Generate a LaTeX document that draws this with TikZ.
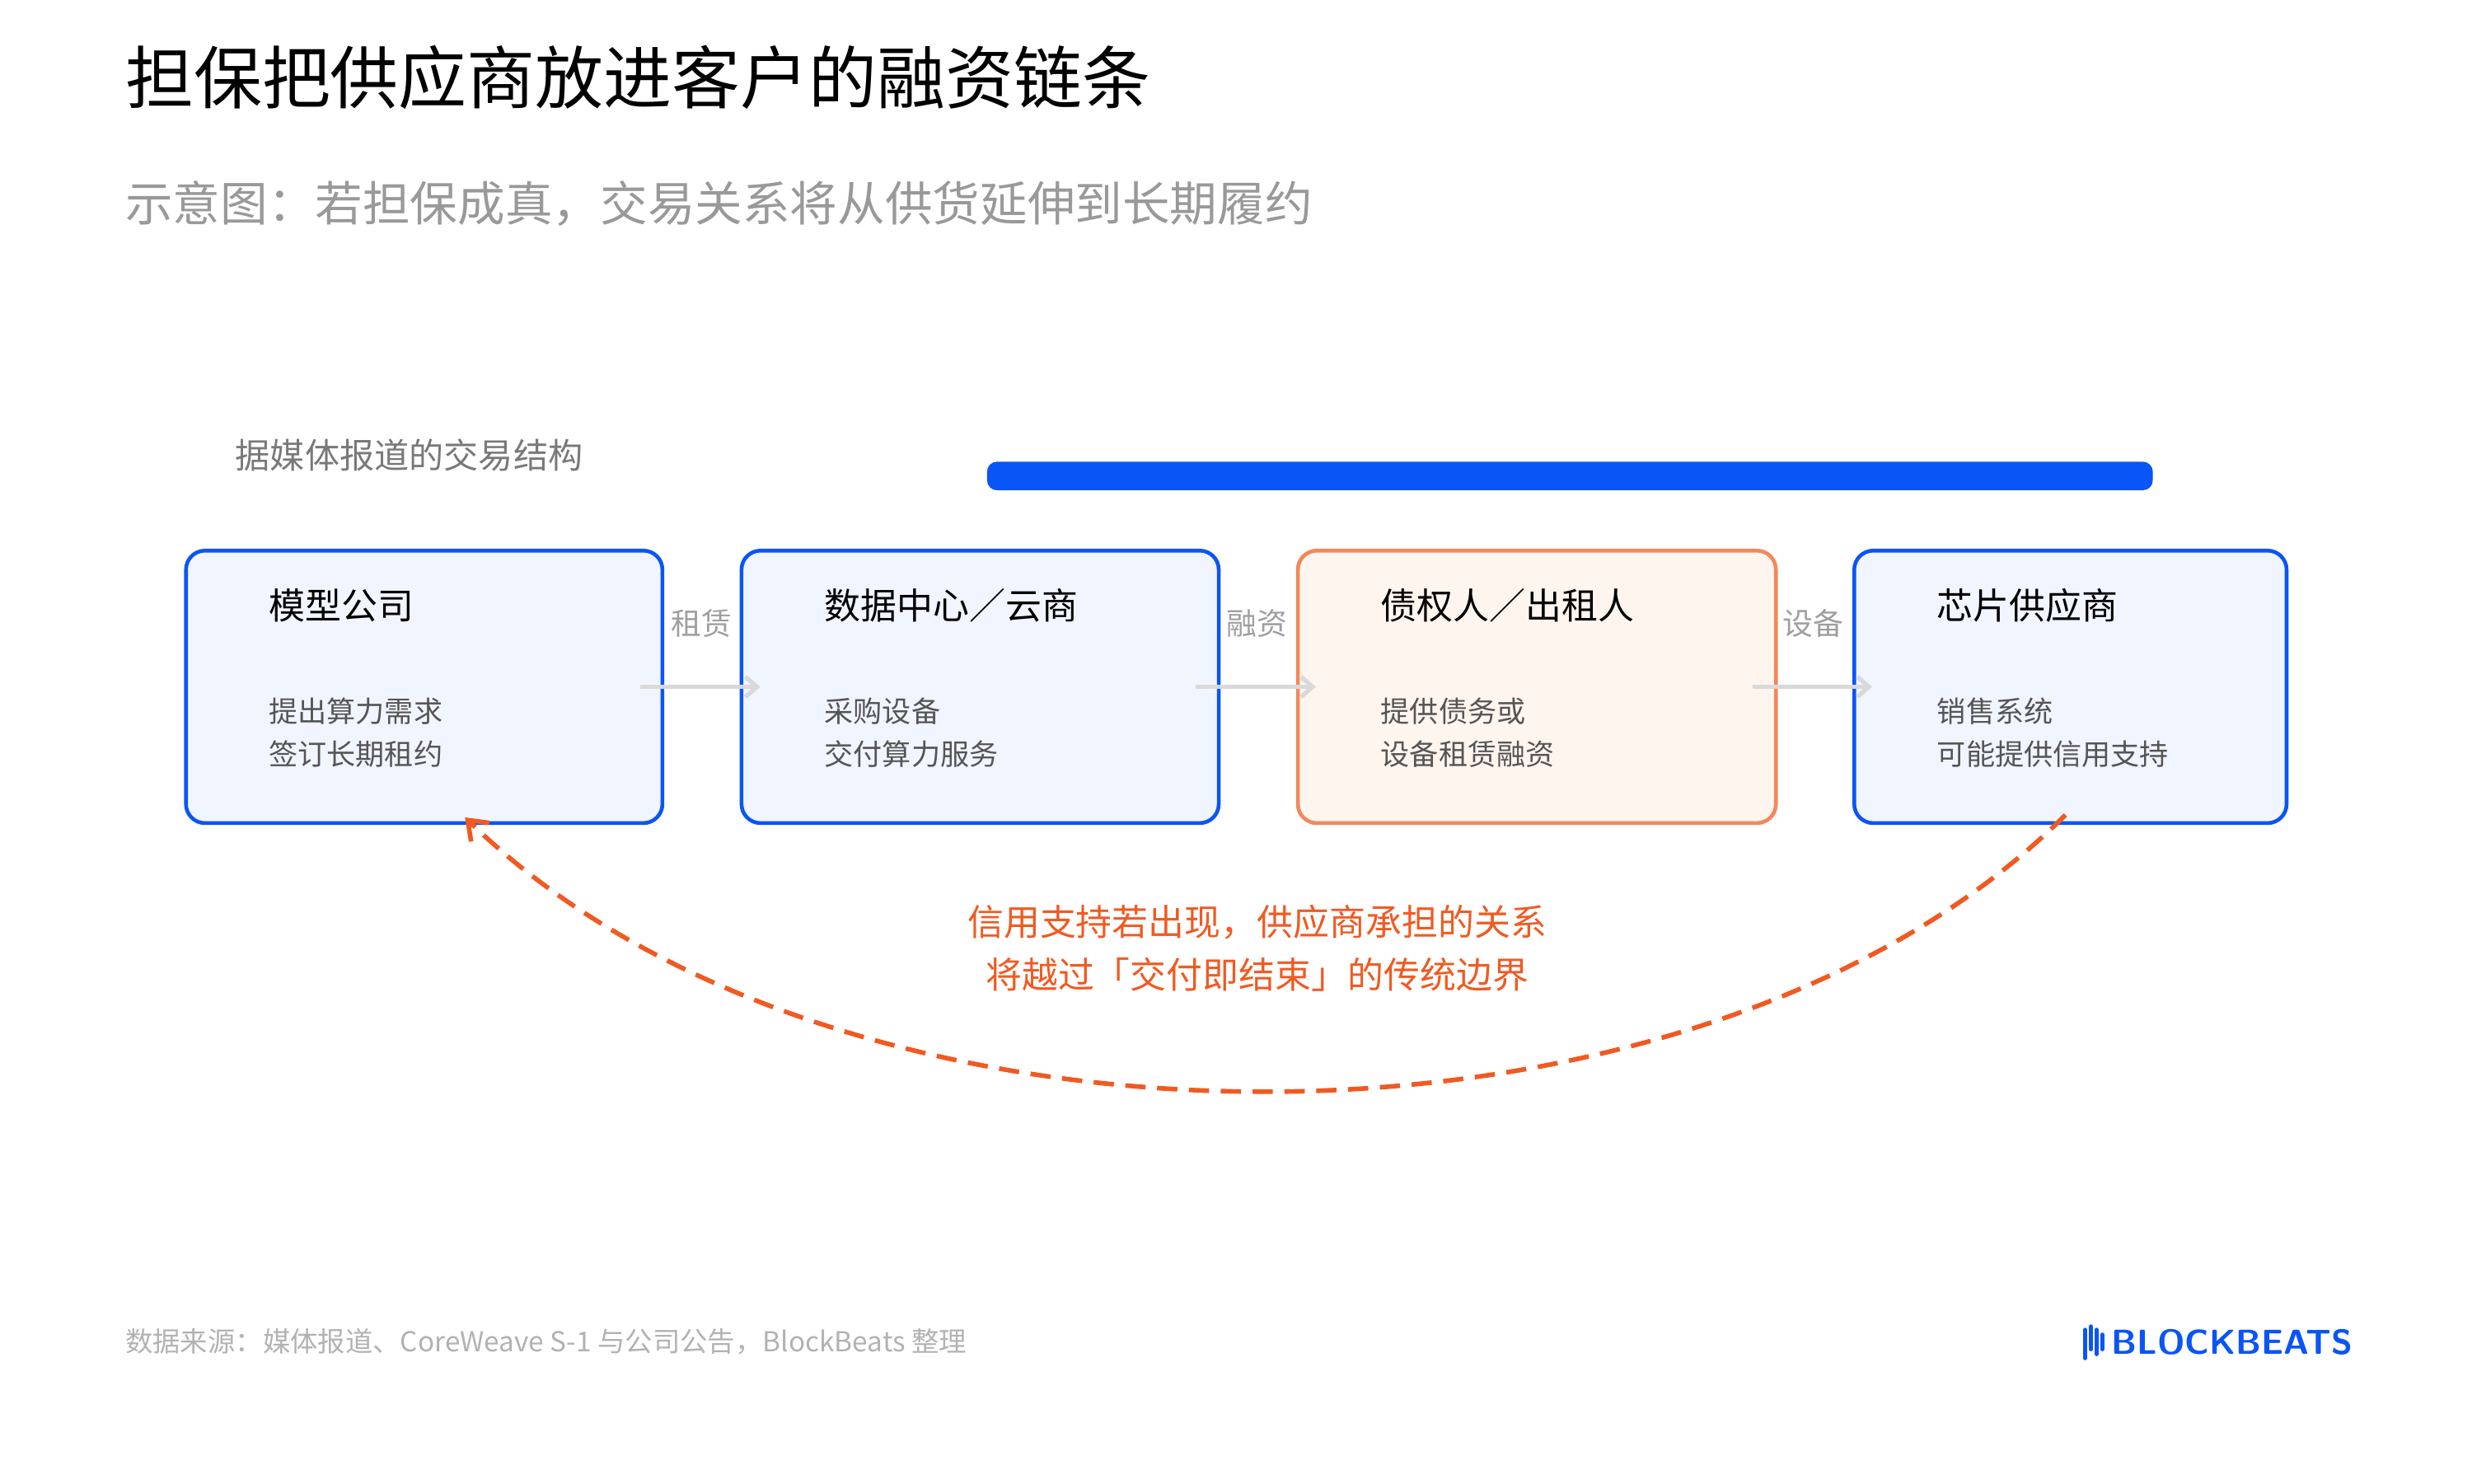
\documentclass[tikz,border=0pt]{standalone}
\usepackage{fontspec}
\setmainfont{Noto Sans CJK SC}
\usetikzlibrary{arrows.meta}
\definecolor{bblue}{HTML}{0A55F5}
\definecolor{bfill}{HTML}{F1F5FF}
\definecolor{ofill}{HTML}{FFF5EF}
\definecolor{oline}{HTML}{F4875A}
\definecolor{otxt}{HTML}{F05A22}
\definecolor{gtxt}{HTML}{555555}
\begin{document}
\begin{tikzpicture}[x=0.0099cm,y=-0.0099cm,
 box/.style={draw=bblue,line width=1.3pt,fill=bfill,rounded corners=0.23cm},
 obox/.style={draw=oline,line width=1.3pt,fill=ofill,rounded corners=0.23cm},
 lw/.style={anchor=west,inner sep=0pt},
 ttl/.style={lw,font=\fontsize{12.5}{15}\selectfont,text=black},
 body/.style={lw,font=\fontsize{10}{14}\selectfont,text=gtxt},
 lab/.style={font=\fontsize{10.5}{13}\selectfont,text=gray!75},
 flow/.style={draw=gray!30,line width=1.5pt,-{Straight Barb[length=4pt,width=7pt]}}]
\useasboundingbox (0,0) rectangle (3030.3,1818.2);
\node[lw,font=\fontsize{23.6}{28}\selectfont] (title) at (153,95) {担保把供应商放进客户的融资链条};
\node[lw,font=\fontsize{16.4}{20}\selectfont,text=gray!80] (sub) at (153,250) {示意图：若担保成真，交易关系将从供货延伸到长期履约};
\node[lw,font=\fontsize{12}{15}\selectfont,text=gray!95!black] (sec) at (288,558) {据媒体报道的交易结构};
\fill[bblue,rounded corners=0.12cm] (1210,566) rectangle (2639,601);
\path[box] (228,675) rectangle (812,1009);
\path[box] (909,675) rectangle (1494,1009);
\path[obox] (1591,675) rectangle (2177,1009);
\path[box] (2273,675) rectangle (2803,1009);
\node[ttl] (t1) at (329,742) {模型公司};
\node[body] (d1) at (329,872) {提出算力需求};
\node[body] (e1) at (329,924) {签订长期租约};
\node[ttl] (t2) at (1010,742) {数据中心／云商};
\node[body] (d2) at (1010,872) {采购设备};
\node[body] (e2) at (1010,924) {交付算力服务};
\node[ttl] (t3) at (1692,742) {债权人／出租人};
\node[body] (d3) at (1692,872) {提供债务或};
\node[body] (e3) at (1692,924) {设备租赁融资};
\node[ttl] (t4) at (2374,742) {芯片供应商};
\node[body] (d4) at (2374,872) {销售系统};
\node[body] (e4) at (2374,924) {可能提供信用支持};
\coordinate (a1s) at (785,842); \coordinate (a1e) at (932,842);
\coordinate (a2s) at (1466,842); \coordinate (a2e) at (1613,842);
\coordinate (a3s) at (2148,842); \coordinate (a3e) at (2295,842);
\draw[flow] (a1s) -- (a1e);
\draw[flow] (a2s) -- (a2e);
\draw[flow] (a3s) -- (a3e);
\node[lab] (l1) at (860,764) {租赁};
\node[lab] (l2) at (1541,764) {融资};
\node[lab] (l3) at (2223,764) {设备};
\coordinate (cs) at (2532,999); \coordinate (ce) at (570,1002);
\draw[otxt,line width=1.6pt,dash pattern=on 7pt off 4pt,-{Straight Barb[length=6pt,width=9pt]}] (cs) .. controls (2080,1450) and (1030,1450) .. (ce);
\node[font=\fontsize{12.5}{15}\selectfont,text=otxt] (c1) at (1541,1131) {信用支持若出现，供应商承担的关系};
\node[font=\fontsize{12.5}{15}\selectfont,text=otxt] (c2) at (1541,1195) {将越过「交付即结束」的传统边界};
\node[lw,font=\fontsize{9.5}{12}\selectfont,text=gray!60] (src) at (153,1645) {数据来源：媒体报道、CoreWeave S-1 与公司公告，BlockBeats 整理};
\foreach \i/\t/\b in {0/1630/1665,1/1626/1654,2/1630/1660,3/1636/1654}{\draw[bblue,line width=1.4pt,line cap=round] (2556+\i*7,\t) -- (2556+\i*7,\b);}
\node[lw,font=\sffamily\bfseries\fontsize{12}{15}\selectfont,text=bblue] (logo) at (2588,1645) {BLOCKBEATS};
\end{tikzpicture}
\end{document}
